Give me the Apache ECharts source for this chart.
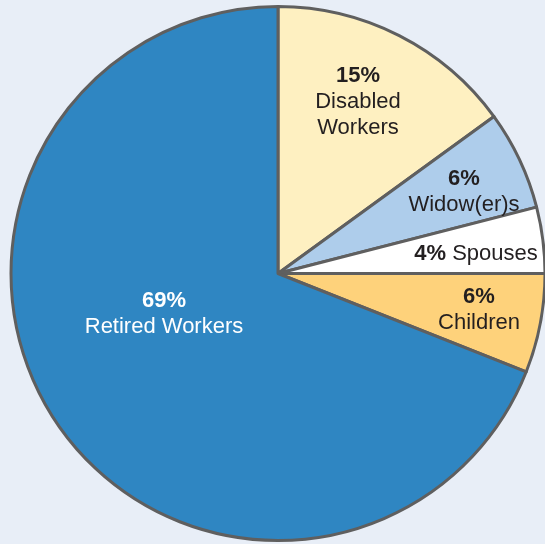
<!DOCTYPE html>
<html>
<head>
<meta charset="utf-8">
<script src="https://cdn.jsdelivr.net/npm/echarts@6/dist/echarts.min.js"></script>
<style>
html,body{margin:0;padding:0;background:#e8eef7;}
#chart{width:545px;height:544px;}
</style>
</head>
<body>
<div id="chart"></div>
<script>
// Data
var categories = ['Disabled Workers', 'Widow(er)s', 'Spouses', 'Children', 'Retired Workers'];
var values = [15, 6, 4, 6, 69];
var labelLines = [['Disabled', 'Workers'], ['Widow(er)s'], ['Spouses'], ['Children'], ['Retired Workers']];
var inlineLabel = [false, false, true, false, false];

// Styles
var colors = ['#fef0c1', '#aecdeb', '#ffffff', '#fed27b', '#2f86c2'];
var textColors = ['#231f20', '#231f20', '#231f20', '#231f20', '#ffffff'];
// label anchor offsets from pie center (px)
var labelOffsets = [[80, -172], [186, -82], [198, -20], [201, 36], [-114, 40]];

var cx = 278, cy = 273.5, R = 267;
var FONT = '"Liberation Sans", Arial, Helvetica, sans-serif';

var chart = echarts.init(document.getElementById('chart'), null, {renderer: 'canvas'});

var data = categories.map(function (c, i) {
  return {
    name: c,
    value: values[i],
    itemStyle: {color: colors[i]},
    label: {color: textColors[i]}
  };
});

chart.setOption({
  backgroundColor: '#e8eef7',
  animation: false,
  series: [{
    type: 'pie',
    center: [cx, cy],
    radius: [0, R],
    startAngle: 90,
    clockwise: true,
    avoidLabelOverlap: false,
    itemStyle: {borderColor: '#5f5f5f', borderWidth: 3},
    label: {
      show: true,
      position: 'inside',
      fontFamily: FONT,
      fontSize: 22,
      lineHeight: 26,
      align: 'center',
      formatter: function (p) {
        var i = p.dataIndex;
        var pct = '{b|' + values[i] + '%}';
        var lines = labelLines[i].map(function (l) { return '{n|' + l + '}'; });
        if (inlineLabel[i]) return pct + '{n| ' + labelLines[i][0] + '}';
        return pct + '\n' + lines.join('\n');
      },
      rich: {
        b: {fontWeight: 'bold', fontSize: 22, lineHeight: 26, fontFamily: FONT},
        n: {fontSize: 22, lineHeight: 26, fontFamily: FONT}
      }
    },
    labelLine: {show: false},
    labelLayout: function (p) {
      var o = labelOffsets[p.dataIndex];
      return {x: cx + o[0], y: cy + o[1], align: 'center', verticalAlign: 'middle'};
    },
    emphasis: {disabled: true},
    data: data
  }]
});
</script>
</body>
</html>
